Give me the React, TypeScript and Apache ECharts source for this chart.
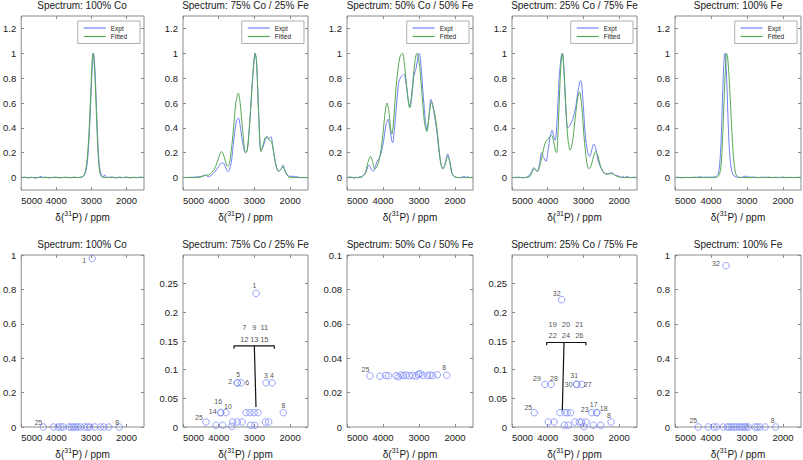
import React, { useEffect, useRef } from 'react';
import * as echarts from 'echarts';

// ---------------- data ----------------
const panelTitles = [
  'Spectrum: 100% Co',
  'Spectrum: 75% Co / 25% Fe',
  'Spectrum: 50% Co / 50% Fe',
  'Spectrum: 25% Co / 75% Fe',
  'Spectrum: 100% Fe',
];
const xTickValues = [2000, 3000, 4000, 5000];
const spectrumYTicks = [0, 0.2, 0.4, 0.6, 0.8, 1, 1.2];
const amplitudeYTicks = [
  [0, 0.2, 0.4, 0.6, 0.8, 1],
  [0, 0.05, 0.1, 0.15, 0.2, 0.25],
  [0, 0.02, 0.04, 0.06, 0.08, 0.1],
  [0, 0.05, 0.1, 0.15, 0.2, 0.25],
  [0, 0.2, 0.4, 0.6, 0.8, 1],
];
const amplitudeYMax = [1, 0.3, 0.1, 0.3, 1];

const expt100Co = [[5000,0],[4900,0.004],[4800,-0.003],[4700,0.003],[4600,-0.004],[4500,0.002],[4420,0.012],[4380,0],[4300,0.004],[4200,-0.003],[4100,0.002],[4000,0.004],[3900,-0.003],[3800,0.002],[3700,0.003],[3600,-0.002],[3500,0.004],[3400,0],[3300,0.003],[3240,0.008],[3200,0.02],[3150,0.06],[3100,0.17],[3050,0.4],[3000,0.74],[2960,0.96],[2940,1],[2910,0.93],[2870,0.68],[2830,0.38],[2790,0.15],[2750,0.05],[2700,0.015],[2660,0.005],[2620,0.022],[2590,0.005],[2500,0.002],[2400,0.005],[2300,-0.003],[2200,0.004],[2100,0],[2000,0.005],[1900,-0.003],[1800,0.003],[1700,0],[1600,0.004],[1500,0]];
const fitted100Co = [[5000,0],[4400,0],[3400,0],[3280,0.004],[3220,0.015],[3170,0.05],[3120,0.15],[3070,0.35],[3020,0.66],[2980,0.92],[2960,1],[2930,0.96],[2890,0.76],[2850,0.46],[2810,0.2],[2770,0.06],[2730,0.015],[2690,0.003],[2600,0],[1500,0]];

const expt75Co = [[5000,0],[4800,0.002],[4600,0.005],[4400,0.015],[4350,0.02],[4300,0.005],[4200,0.02],[4100,0.05],[4000,0.09],[3900,0.12],[3850,0.11],[3780,0.06],[3730,0.05],[3650,0.12],[3580,0.3],[3500,0.46],[3450,0.48],[3400,0.42],[3330,0.28],[3250,0.2],[3200,0.22],[3130,0.45],[3050,0.8],[2980,1],[2940,0.93],[2880,0.5],[2820,0.22],[2780,0.23],[2700,0.3],[2650,0.33],[2600,0.31],[2540,0.33],[2480,0.24],[2400,0.1],[2320,0.05],[2250,0.07],[2200,0.1],[2150,0.06],[2080,0.02],[2000,0.01],[1900,0.01],[1800,0.005],[1700,0],[1500,0]];
const fitted75Co = [[5000,0],[4600,0],[4450,0.01],[4380,0.02],[4300,0.02],[4200,0.04],[4100,0.08],[4000,0.16],[3920,0.21],[3850,0.17],[3780,0.1],[3740,0.09],[3680,0.15],[3600,0.35],[3520,0.6],[3450,0.68],[3400,0.6],[3330,0.38],[3250,0.2],[3200,0.22],[3130,0.45],[3050,0.8],[2980,1],[2940,0.93],[2880,0.5],[2820,0.21],[2780,0.24],[2700,0.32],[2650,0.33],[2580,0.3],[2520,0.29],[2460,0.2],[2380,0.08],[2320,0.05],[2250,0.07],[2200,0.09],[2140,0.05],[2060,0.01],[2000,0],[1500,0]];

const expt50Co = [[5000,0],[4900,0.005],[4800,-0.005],[4750,0.004],[4700,-0.003],[4650,0.01],[4600,0.002],[4550,0.02],[4480,0.04],[4420,0.09],[4390,0.1],[4330,0.07],[4270,0.05],[4200,0.1],[4160,0.13],[4100,0.16],[4050,0.2],[3980,0.3],[3920,0.42],[3860,0.47],[3810,0.4],[3760,0.3],[3730,0.28],[3680,0.4],[3620,0.6],[3560,0.77],[3500,0.81],[3420,0.83],[3350,0.74],[3290,0.6],[3250,0.57],[3200,0.65],[3140,0.82],[3080,0.88],[3020,0.98],[2990,1],[2950,0.92],[2880,0.65],[2820,0.45],[2780,0.38],[2720,0.5],[2670,0.63],[2620,0.58],[2560,0.48],[2500,0.36],[2440,0.2],[2380,0.1],[2330,0.07],[2270,0.12],[2200,0.19],[2150,0.14],[2100,0.05],[2060,0.02],[2000,0.005],[1900,0],[1800,0.003],[1750,0.012],[1700,0],[1650,0.008],[1600,0],[1500,0]];
const fitted50Co = [[5000,0],[4700,0],[4600,0.005],[4500,0.03],[4420,0.12],[4350,0.17],[4300,0.14],[4230,0.07],[4180,0.08],[4100,0.15],[4020,0.3],[3950,0.5],[3890,0.6],[3840,0.54],[3790,0.4],[3750,0.35],[3700,0.48],[3620,0.78],[3530,0.97],[3460,1],[3400,0.9],[3330,0.7],[3260,0.56],[3200,0.68],[3120,0.92],[3060,1],[3000,0.94],[2930,0.72],[2850,0.45],[2780,0.37],[2720,0.5],[2650,0.61],[2590,0.55],[2520,0.44],[2460,0.28],[2400,0.12],[2340,0.07],[2280,0.1],[2200,0.17],[2140,0.12],[2090,0.04],[2030,0.01],[1950,0],[1500,0]];

const expt25Co = [[5000,0],[4800,0.003],[4700,-0.002],[4600,0.003],[4520,0.015],[4450,0.05],[4390,0.08],[4330,0.06],[4290,0.05],[4230,0.11],[4170,0.2],[4110,0.16],[4050,0.13],[3990,0.22],[3930,0.33],[3880,0.38],[3830,0.33],[3790,0.3],[3740,0.45],[3680,0.8],[3620,0.98],[3590,1],[3550,0.9],[3500,0.6],[3440,0.4],[3380,0.42],[3300,0.47],[3220,0.56],[3160,0.68],[3100,0.77],[3070,0.78],[3020,0.65],[2950,0.35],[2880,0.2],[2820,0.17],[2760,0.23],[2710,0.27],[2660,0.24],[2600,0.15],[2530,0.09],[2450,0.05],[2380,0.03],[2300,0.03],[2200,0.04],[2120,0.02],[2000,0.01],[1950,0],[1900,0.01],[1850,0],[1800,0.01],[1700,0],[1600,0.003],[1500,0]];
const fitted25Co = [[5000,0],[4600,0],[4500,0.01],[4440,0.04],[4390,0.07],[4330,0.06],[4280,0.05],[4220,0.1],[4160,0.17],[4100,0.25],[4050,0.29],[3990,0.31],[3930,0.33],[3890,0.34],[3840,0.3],[3780,0.21],[3750,0.2],[3700,0.45],[3650,0.8],[3610,0.98],[3590,1],[3550,0.88],[3490,0.55],[3430,0.3],[3370,0.22],[3310,0.28],[3230,0.48],[3160,0.64],[3110,0.69],[3050,0.58],[2980,0.32],[2910,0.13],[2850,0.07],[2780,0.1],[2710,0.18],[2660,0.21],[2600,0.18],[2530,0.1],[2460,0.05],[2380,0.03],[2280,0.03],[2180,0.03],[2100,0.015],[2000,0.005],[1900,0],[1500,0]];

const expt0Co = [[5000,0],[4900,0.003],[4800,-0.002],[4700,0.002],[4600,0],[4500,0.003],[4400,0.002],[4300,0.006],[4200,0.002],[4100,0.004],[4000,0.003],[3900,0.006],[3850,0.012],[3800,0.03],[3760,0.1],[3720,0.3],[3690,0.55],[3660,0.82],[3630,0.98],[3615,1],[3590,0.94],[3560,0.76],[3530,0.5],[3500,0.28],[3460,0.12],[3420,0.05],[3380,0.02],[3330,0.008],[3250,0.003],[3150,0.002],[3080,0.008],[3030,0.012],[2980,0.006],[2900,0.003],[2800,0.004],[2700,0],[2600,0.003],[2500,0.002],[2400,0.004],[2300,0],[2200,0.003],[2100,0.001],[2000,0.004],[1900,0],[1800,0.003],[1700,0],[1600,0.003],[1500,0]];
const fitted0Co = [[5000,0],[3900,0],[3820,0.005],[3760,0.03],[3720,0.1],[3680,0.3],[3640,0.6],[3600,0.88],[3570,1],[3540,0.97],[3500,0.82],[3460,0.6],[3420,0.37],[3380,0.18],[3340,0.07],[3300,0.02],[3250,0.004],[3200,0],[1500,0]];

const exptSpectra = [expt100Co, expt75Co, expt50Co, expt25Co, expt0Co];
const fittedSpectra = [fitted100Co, fitted75Co, fitted50Co, fitted25Co, fitted0Co];

// component amplitudes: [shift ppm, amplitude, component label]
const amp100Co: [number, number, string][] = [[2976,0.98,'1'],[4370,0,'25'],[4077,0,''],[3947,0,''],[3871,0,''],[3806,0,''],[3636,0,''],[3569,0,''],[3512,0,''],[3447,0,''],[3382,0,''],[3306,0,''],[3193,0,''],[3117,0,''],[3044,0,''],[2902,0,''],[2742,0,''],[2648,0,''],[2507,0,''],[2205,0,'8']];
const amp75Co: [number, number, string][] = [[2955,0.233,'1'],[3480,0.077,'2'],[3480,0.077,'5'],[3370,0.077,'6'],[2675,0.077,'3'],[2507,0.077,'4'],[3944,0.025,'16'],[3944,0.025,'14'],[3796,0.025,'10'],[3235,0.025,''],[3123,0.025,''],[3011,0.025,''],[2899,0.025,''],[2190,0.025,'8'],[4356,0.0087,'25'],[3608,0.0087,''],[3479,0.0087,''],[3347,0.0087,''],[2695,0.0087,''],[2600,0.0087,''],[4076,0.003,''],[3888,0.003,''],[3636,0.001,''],[3104,0.003,''],[2992,0.003,'']];
const amp50Co: [number, number, string][] = [[4361,0.0297,'25'],[4083,0.0295,''],[3925,0.03,''],[3853,0.0298,''],[3639,0.0298,''],[3575,0.0292,''],[3500,0.0302,''],[3436,0.0298,''],[3361,0.0302,''],[3269,0.0298,''],[3175,0.03,''],[3083,0.0296,''],[3019,0.0305,''],[2972,0.031,''],[2897,0.0301,''],[2769,0.0298,''],[2694,0.0302,''],[2619,0.0299,''],[2492,0.0303,''],[2230,0.0301,'8']];
const amp25Co: [number, number, string][] = [[3609,0.222,'32'],[4076,0.0744,'29'],[3908,0.0744,'28'],[3189,0.0744,'31'],[3189,0.0744,'30'],[3049,0.0744,'27'],[4375,0.025,'25'],[3656,0.025,''],[3516,0.025,''],[3451,0.025,''],[3357,0.025,''],[2768,0.025,'23'],[2628,0.025,'17'],[2628,0.025,'18'],[2228,0.0087,'8'],[3983,0.0087,''],[3824,0.0087,''],[3236,0.0087,''],[3115,0.0087,''],[3049,0.0087,''],[2928,0.0087,''],[3535,0.003,''],[3423,0.003,''],[2723,0.003,''],[2516,0.003,''],[2984,0.0005,'']];
const amp0Co: [number, number, string][] = [[3583,0.938,'32'],[4353,0,'25'],[4075,0,''],[3917,0,''],[3842,0,''],[3658,0,''],[3547,0,''],[3492,0,''],[3425,0,''],[3353,0,''],[3286,0,''],[3214,0,''],[3150,0,''],[3083,0,''],[3028,0,''],[2964,0,''],[2778,0,''],[2714,0,''],[2639,0,''],[2500,0,''],[2203,0,'8']];
const amplitudes = [amp100Co, amp75Co, amp50Co, amp25Co, amp0Co];

// grouping brackets (data units)
const bracket75Co = [[3572,0.1365],[3572,0.1415],[2443,0.1415],[2443,0.1365]];
const stem75Co = [[3003,0.1415],[2956,0.0347]];
const groupText75Co: [number, number, string][] = [[3283,0.1734,'7'],[3003,0.1734,'9'],[2723,0.1734,'11'],[3283,0.153,'12'],[3003,0.153,'13'],[2723,0.153,'15']];
const bracket25Co = [[4029,0.1424],[4029,0.1474],[2928,0.1474],[2928,0.1424]];
const stem25Co = [[3544,0.1474],[3591,0.0289]];
const groupText25Co: [number, number, string][] = [[3861,0.178,'19'],[3488,0.178,'20'],[3115,0.178,'21'],[3861,0.159,'22'],[3488,0.159,'24'],[3115,0.159,'26']];

// ---------------- styling / layout ----------------
const FONT = '"Liberation Sans", Arial, Helvetica, sans-serif';
const AXIS_GRAY = '#8a8a8a';
const TEXT = '#1a1a1a';
const BLUE = '#7080f5';
const GREEN = '#55a855';
const colLeft = [20, 183, 347, 512, 675];
const colWidth = [124, 125, 126, 125, 126];
const rowTop = [16, 255];
const rowHeight = [174, 173];

// label offsets (px from circle centre) for each panel
const labelOffsets: Record<string, [number, number]>[] = [
  { '1': [-8, 2], '25': [-5, -5], '8': [-2, -5] },
  { '1': [-1.5, -7.5], '2': [-7, -1], '5': [1, -8], '6': [6, 0], '3': [0, -7], '4': [0, -7], '8': [0, -7.5], '16': [-2.5, -11], '14': [-8, -1.5], '10': [2, -6.5], '25': [-7, -5] },
  { '25': [-4.5, -6.5], '8': [-2.5, -7.5] },
  { '32': [-5, -6], '29': [-8, -5.5], '28': [3, -6], '31': [-2.5, -8.5], '30': [-8, 0.5], '27': [6, 0.5], '25': [-6, -5], '23': [-7, -3], '17': [-3, -8], '18': [7, -4], '8': [-2, -7] },
  { '32': [-10, -2.5], '25': [-5, -7], '8': [-3, -7] },
];

const fmt = (v: number) => String(+Number(v).toFixed(4));

function buildOption() {
  const grid: any[] = [];
  const xAxis: any[] = [];
  const yAxis: any[] = [];
  const series: any[] = [];
  const title: any[] = [];
  const legend: any[] = [];

  for (let r = 0; r < 2; r++) {
    for (let c = 0; c < 5; c++) {
      const g = r * 5 + c;
      grid.push({
        left: colLeft[c], top: rowTop[r], width: colWidth[c], height: rowHeight[r],
        show: true, borderColor: AXIS_GRAY, borderWidth: 1, backgroundColor: 'transparent',
      });
      title.push({
        text: panelTitles[c],
        left: colLeft[c] + colWidth[c] / 2,
        top: r === 0 ? 0 : 239,
        textAlign: 'center',
        padding: 0,
        textStyle: { fontSize: 10, fontWeight: 'normal', fontFamily: FONT, color: TEXT },
      });
      const tick = { show: true, inside: true, length: 3, lineStyle: { color: AXIS_GRAY, width: 1 } };
      const xBase = {
        type: 'value', gridIndex: g, min: 1500, max: 5000, inverse: true,
        splitLine: { show: false }, axisLine: { show: false, onZero: false },
        axisTick: { ...tick, customValues: xTickValues },
      };
      xAxis.push({
        ...xBase, position: 'bottom',
        axisLabel: {
          show: true, customValues: xTickValues, formatter: fmt, fontSize: 9.5,
          fontFamily: FONT, color: TEXT, margin: 5, alignMaxLabel: 'left',
        },
        name: '{a|δ(}{s|31}{a|P) / ppm}',
        nameLocation: 'middle',
        nameGap: 20,
        nameTextStyle: {
          fontSize: 10, fontFamily: FONT, color: TEXT,
          rich: {
            a: { fontSize: 10, fontFamily: FONT, color: TEXT, verticalAlign: 'bottom' },
            s: { fontSize: 7, fontFamily: FONT, color: TEXT, verticalAlign: 'bottom', padding: [0, 0, 5, 0] },
          },
        },
      });
      xAxis.push({ ...xBase, position: 'top', axisLabel: { show: false } });

      const yTicks = r === 0 ? spectrumYTicks : amplitudeYTicks[c];
      const yBase = {
        type: 'value', gridIndex: g,
        min: r === 0 ? -0.1 : 0,
        max: r === 0 ? 1.3 : amplitudeYMax[c],
        splitLine: { show: false }, axisLine: { show: false, onZero: false },
        axisTick: { ...tick, customValues: yTicks },
      };
      yAxis.push({
        ...yBase, position: 'left',
        axisLabel: { show: true, customValues: yTicks, formatter: fmt, fontSize: 9.5, fontFamily: FONT, color: TEXT, margin: 5 },
      });
      yAxis.push({ ...yBase, position: 'right', axisLabel: { show: false } });

      const xi = 2 * g;
      if (r === 0) {
        series.push({
          type: 'line', name: 'Expt', xAxisIndex: xi, yAxisIndex: xi,
          data: exptSpectra[c], smooth: 0.3, symbol: 'none', clip: true,
          lineStyle: { color: BLUE, width: 1 }, itemStyle: { color: BLUE },
          emphasis: { disabled: true },
        });
        series.push({
          type: 'line', name: 'Fitted', xAxisIndex: xi, yAxisIndex: xi,
          data: fittedSpectra[c], smooth: 0.3, symbol: 'none', clip: true,
          lineStyle: { color: GREEN, width: 1 }, itemStyle: { color: GREEN },
          emphasis: { disabled: true },
        });
        legend.push({
          data: [{ name: 'Expt', icon: 'rect' }, { name: 'Fitted', icon: 'rect' }],
          orient: 'vertical',
          right: 803 - (colLeft[c] + colWidth[c]) + 4,
          top: rowTop[0] + 5,
          itemWidth: 22, itemHeight: 1.2, itemGap: 0.5,
          padding: [3, 13, 3, 6],
          borderColor: '#9a9a9a', borderWidth: 0.8, backgroundColor: '#fff',
          selectedMode: false,
          textStyle: { fontSize: 6.5, fontFamily: FONT, color: TEXT, lineHeight: 8 },
        });
      } else {
        const offs = labelOffsets[c];
        series.push({
          type: 'scatter', name: 'amp' + c, xAxisIndex: xi, yAxisIndex: xi,
          symbol: 'circle', symbolSize: 6.5, clip: false,
          itemStyle: { color: 'rgba(0,0,0,0)', borderColor: BLUE, borderWidth: 0.9 },
          emphasis: { disabled: true },
          data: amplitudes[c].map(([x, y, n]) => {
            const o = offs[n];
            return {
              value: [x, y], name: n,
              label: o ? {
                show: true, position: 'inside', offset: o, formatter: n,
                fontSize: 7, fontFamily: FONT, color: TEXT,
              } : { show: false },
            };
          }),
        });
        const groups: any[] = [];
        if (c === 1) groups.push([bracket75Co, stem75Co, groupText75Co]);
        if (c === 3) groups.push([bracket25Co, stem25Co, groupText25Co]);
        for (const [br, st, tx] of groups) {
          for (const ln of [br, st]) {
            series.push({
              type: 'line', xAxisIndex: xi, yAxisIndex: xi, data: ln, symbol: 'none',
              lineStyle: { color: '#111', width: 1.2 }, emphasis: { disabled: true }, silent: true,
            });
          }
          series.push({
            type: 'scatter', xAxisIndex: xi, yAxisIndex: xi, symbolSize: 0, silent: true,
            data: tx.map(([x, y, n]: [number, number, string]) => ({ value: [x, y], name: n })),
            label: { show: true, position: 'inside', formatter: '{b}', fontSize: 7.5, fontFamily: FONT, color: TEXT },
          });
        }
      }
    }
  }

  return {
    animation: false,
    backgroundColor: '#fff',
    textStyle: { fontFamily: FONT },
    title, legend, grid, xAxis, yAxis, series,
  };
}

export default function App() {
  const ref = useRef<HTMLDivElement>(null);
  useEffect(() => {
    if (!ref.current) return;
    const chart = echarts.init(ref.current, undefined, { renderer: 'svg' });
    chart.setOption(buildOption() as any);
    return () => chart.dispose();
  }, []);
  return (
    <div
      ref={ref}
      style={{ position: 'absolute', left: 0, top: 0, width: 803, height: 460, background: '#fff' }}
    />
  );
}
